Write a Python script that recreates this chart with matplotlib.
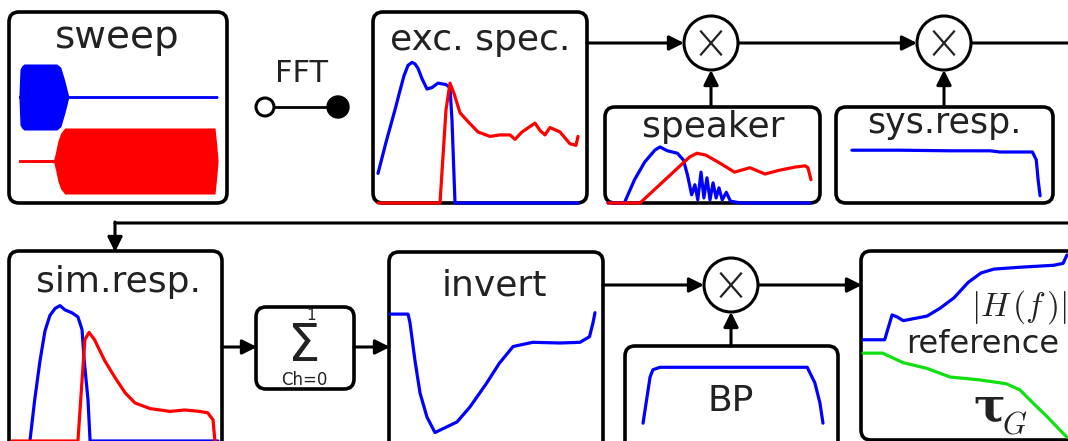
import matplotlib.pyplot as plt
from matplotlib.patches import FancyBboxPatch, Circle, FancyArrowPatch

# ---- curve data (x: 0..100 relative frequency / time, y: 0..100 relative level)
sweep_lo_t = [0, 0.5, 1.5, 2.5, 19, 21, 23, 25, 100]
sweep_lo_env = [0.1, 0.85, 0.95, 1, 1, 0.9, 0.5, 0.02, 0.02]
sweep_hi_t = [0, 17.5, 18.5, 19.5, 21, 23, 98.5, 99.2, 100]
sweep_hi_env = [0.02, 0.05, 0.3, 0.6, 0.85, 1, 1, 0.6, 0.05]

exc_lo_x = [0, 4, 8.5, 11, 13, 15, 17, 18.5, 20, 22, 24.5, 27, 30, 34, 36, 37, 38.5, 100]
exc_lo_y = [20, 41, 63, 76, 86, 93, 95, 94, 91, 84, 77, 78, 81, 80, 78, 56, 0, 0]
exc_hi_x = [0, 31, 34, 36, 38, 41, 45, 50, 56, 61, 66, 68.5, 72, 78.5, 81, 83.5, 86, 91, 96, 99, 100]
exc_hi_y = [0, 0, 63, 81, 74, 61, 55, 48, 45, 46, 46, 43, 48, 54, 49, 46, 51, 48, 40, 39, 45]

spk_lo_x = [0, 8, 13, 18, 23, 25.5, 29, 34, 37, 39, 41, 42.6, 44, 45.6, 47, 48.5, 50, 51.5,
            53, 54.4, 56, 58, 60, 65, 99]
spk_lo_y = [0, 0, 37, 65, 84, 89, 83, 79, 68, 44, 13, 29, 5, 49, 8, 40, 5, 32,
            8, 24, 5, 17, 3, 0, 0]
spk_hi_x = [0, 15.7, 40, 43.6, 48, 55, 62, 69.6, 77, 84, 91.7, 96.6, 98, 99.5]
spk_hi_y = [0, 0, 73, 79, 76, 63, 49, 56, 46, 52, 57, 59, 56, 37]

sys_x = [1, 26, 52, 73, 78, 95, 97, 98, 99]
sys_y = [83, 83, 82, 82, 80, 80, 67, 33, 7]

sim_lo_x = [8.7, 11, 13.6, 16, 18.4, 20.9, 23.3, 25.7, 29, 32, 34, 35, 36.9, 37.9, 100]
sim_lo_y = [0, 29, 57, 78, 89, 94, 96, 93, 91, 88, 79, 58, 29, 0, 0]
sim_hi_x = [0, 32, 34, 35.4, 37.4, 40, 45, 50, 55, 59.7, 67, 76.7, 84, 91, 95, 97.6, 98.5]
sim_hi_y = [0, 0, 43, 72, 77, 72, 57, 45, 34, 27, 23, 21, 22, 21, 20, 15, 0]

inv_x = [0, 8.6, 9.5, 11.9, 14.3, 17.6, 21.4, 27, 31.9, 38, 46, 52, 58.6, 68, 81, 90.5, 95, 96.7, 97.6]
inv_y = [90, 90, 84, 57, 34, 17, 6, 10, 13.5, 24, 41, 55, 67, 70, 69.5, 70, 74, 84, 91]

bp_x = [1.6, 5.3, 6.8, 10.5, 88, 92, 94.7, 96.3]
bp_y = [22, 79, 88, 91, 91, 72, 47, 22]

ref_mag_x = [0.5, 11, 14.6, 17, 20, 24.8, 31.6, 38, 44.7, 51.5, 57.8, 64, 77, 93, 97.6, 99.5]
ref_mag_y = [53, 53, 66, 65, 63, 64, 65.4, 69.6, 75, 83, 88, 90, 91, 92, 93, 97.4]
ref_tau_x = [0.5, 10, 20, 31.6, 42.7, 57, 70, 76.7, 83, 90, 96, 99.5]
ref_tau_y = [46, 46, 41, 38, 33.5, 32, 30, 26.7, 19.9, 12.6, 5.8, 2]

BLUE = '#0000ff'
RED = '#ff0000'
GREEN = '#10e010'
TXT = '#222222'
W, H = 1068, 441

fig = plt.figure(figsize=(W / 100, H / 100), dpi=100)
ax = fig.add_axes([0, 0, 1, 1])
ax.set_xlim(0, W)
ax.set_ylim(H, 0)
ax.axis('off')


def box(x0, y0, x1, y1, r=10):
    ax.add_patch(FancyBboxPatch((x0, y0), x1 - x0, y1 - y0,
                                boxstyle="round,pad=0,rounding_size=%d" % r,
                                fc='white', ec='black', lw=2.6, zorder=2))


def panel(x0, y0, x1, y1, xlim=(0, 100), ylim=(0, 100)):
    a = fig.add_axes([x0 / W, 1 - y1 / H, (x1 - x0) / W, (y1 - y0) / H])
    a.set_xlim(*xlim)
    a.set_ylim(*ylim)
    a.axis('off')
    a.patch.set_alpha(0)
    return a


def arrow(p0, p1, head=True):
    st = '-|>' if head else '-'
    ax.add_patch(FancyArrowPatch(p0, p1, arrowstyle=st, mutation_scale=22,
                                 color='black', lw=2.2, shrinkA=0, shrinkB=0, zorder=3))


def mult(cx, cy, r=27):
    ax.add_patch(Circle((cx, cy), r, fc='white', ec='black', lw=2.2, zorder=4))
    d = 10
    ax.plot([cx - d, cx + d], [cy - d * 1.15, cy + d * 1.15], color=TXT, lw=1.6, zorder=5)
    ax.plot([cx - d, cx + d], [cy + d * 1.15, cy - d * 1.15], color=TXT, lw=1.6, zorder=5)


def title(x, y, s, fs=26):
    ax.text(x, y, s, ha='center', va='baseline', fontsize=fs, color=TXT, zorder=5)


# boxes
box(9, 12, 227, 203)
box(373, 12, 587, 203)
box(605, 107, 820, 203)
box(836, 107, 1053, 203)
box(9, 251, 222, 460)
box(256, 307, 354, 389)
box(389, 252, 603, 460)
box(625, 346, 838, 460)
box(861, 251, 1090, 440)

# connections
arrow((587, 43), (684, 43))
arrow((739, 43), (917, 43))
arrow((971, 43), (1068, 43), head=False)
arrow((711, 107), (711, 70))
arrow((944, 107), (944, 70))
arrow((1068, 223), (115, 223), head=False)
arrow((115, 222), (115, 252))
arrow((222, 347), (257, 347))
arrow((354, 347), (390, 347))
arrow((603, 285), (704, 285))
arrow((731, 346), (731, 312))
arrow((758, 285), (862, 285))
mult(711, 43)
mult(944, 43)
mult(731, 285)

# FFT symbol
ax.plot([274, 328], [107, 107], color='black', lw=2, zorder=3)
ax.add_patch(Circle((265, 107), 9, fc='white', ec='black', lw=2.2, zorder=4))
ax.add_patch(Circle((338, 107), 11, fc='black', ec='black', lw=1, zorder=4))
ax.text(301, 82, 'FFT', ha='center', va='baseline', fontsize=22, color=TXT)

# titles
title(117, 48, 'sweep', 28)
title(480, 50, 'exc. spec.', 26)
title(713, 137, 'speaker', 26)
title(944, 133, 'sys.resp.', 25)
title(118, 292, 'sim.resp.', 26)
title(494, 295, 'invert', 26)
title(731, 411, 'BP', 26)
title(983, 353, 'reference', 23)

# sum block
ax.text(304, 347, 'Σ', ha='center', va='center', fontsize=37, color=TXT, zorder=5)
ax.text(311, 320, '1', ha='center', va='baseline', fontsize=11, color=TXT, zorder=5)
ax.text(304, 385, 'Ch=0', ha='center', va='baseline', fontsize=12, color=TXT, zorder=5)

# reference labels
ax.text(1067, 316, r'$|H\,(f\,)|$', ha='right', va='baseline', fontsize=24,
        color=TXT, math_fontfamily='cm', zorder=5)
ax.text(973, 421, 'τ', ha='left', va='baseline', fontsize=34, fontweight='bold',
        family='DejaVu Serif', color=TXT, zorder=5)
ax.text(1002, 433, r'$G$', ha='left', va='baseline', fontsize=22,
        color=TXT, math_fontfamily='cm', zorder=5)

# sweep bursts
a = panel(19, 62, 218, 132, ylim=(-1.06, 1.06))
a.fill_between(sweep_lo_t, [-e for e in sweep_lo_env], sweep_lo_env, color=BLUE, lw=0, zorder=6)
a.plot([0, 100], [0, 0], color=BLUE, lw=2, zorder=6)
a = panel(19, 126, 218, 196, ylim=(-1.06, 1.06))
a.fill_between(sweep_hi_t, [-e for e in sweep_hi_env], sweep_hi_env, color=RED, lw=0, zorder=6)
a.plot([0, 18], [0, 0], color=RED, lw=2, zorder=6)

LW = 2.3
panels = [
    ((378, 55, 578, 203), [(exc_lo_x, exc_lo_y, BLUE), (exc_hi_x, exc_hi_y, RED)]),
    ((608, 140, 812, 203), [(spk_lo_x, spk_lo_y, BLUE), (spk_hi_x, spk_hi_y, RED)]),
    ((850, 140, 1042, 200), [(sys_x, sys_y, BLUE)]),
    ((12, 300, 218, 441), [(sim_lo_x, sim_lo_y, BLUE), (sim_hi_x, sim_hi_y, RED)]),
    ((390, 300, 600, 441), [(inv_x, inv_y, BLUE)]),
    ((640, 360, 830, 441), [(bp_x, bp_y, BLUE)]),
    ((862, 250, 1068, 441), [(ref_mag_x, ref_mag_y, BLUE), (ref_tau_x, ref_tau_y, GREEN)]),
]
for (x0, y0, x1, y1), curves in panels:
    a = panel(x0, y0, x1, y1)
    for xs, ys, c in curves:
        a.plot(xs, ys, color=c, lw=LW, clip_on=False, zorder=6,
               solid_joinstyle='round', solid_capstyle='round')

fig.savefig('out.png', dpi=100)
